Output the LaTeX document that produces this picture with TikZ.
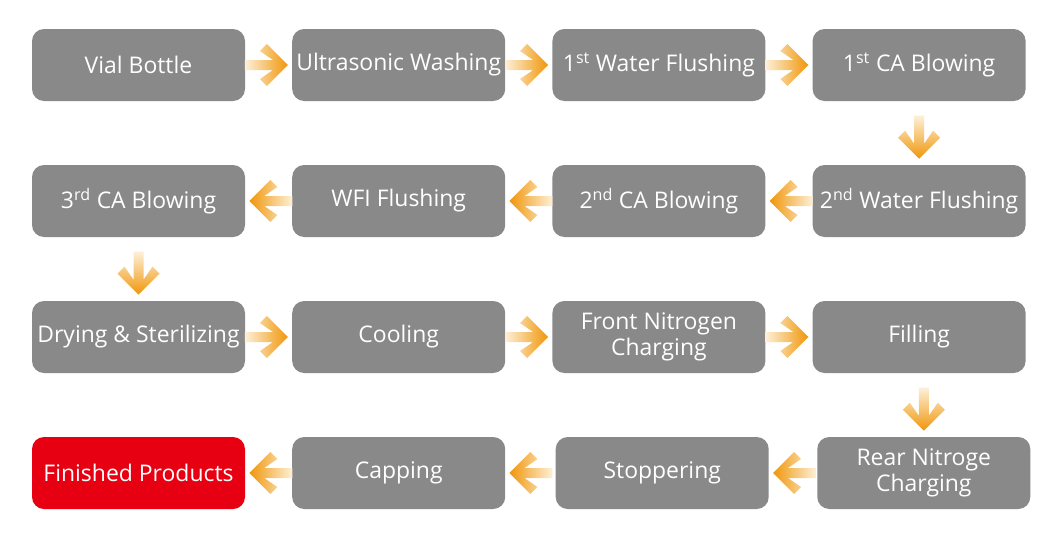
\documentclass[tikz,border=0pt]{standalone}
\usepackage{fontspec}
\setmainfont{Open Sans}
\usetikzlibrary{positioning,calc}

\definecolor{boxgray}{RGB}{137,137,137}
\definecolor{donered}{RGB}{230,0,18}
\definecolor{arrpale}{RGB}{253,240,215}
\definecolor{arrdeep}{RGB}{240,150,10}

\begin{document}
\begin{tikzpicture}[
    x=0.75pt, y=-0.75pt,
    node distance=47.6pt and 35pt,
    box/.style={fill=boxgray, rounded corners=9pt, minimum width=159.75pt, minimum height=54pt, inner xsep=1pt, align=center, text=white, font=\fontsize{17.2}{19.5}\selectfont},
    final/.style={box, fill=donered},
    arrR/.style={left color=arrpale, right color=arrdeep},
    arrL/.style={left color=arrdeep, right color=arrpale},
    arrD/.style={top color=arrpale, bottom color=arrdeep},
    pics/chev/.style={code={
        \shade[#1] (0,0) -- (-21,21) -- (-28,14) -- (-15,5) -- (-43,5) -- (-43,-5) -- (-15,-5) -- (-28,-14) -- (-21,-21) -- cycle;
    }}
]

\fill[white] (0,0) rectangle (1060,543);
\useasboundingbox (0,0) rectangle (1060,543);

% Row 1: left to right
\node[box] at (138.5,65) (vial) {Vial Bottle};
\node[box, right=of vial] (wash) {Ultrasonic Washing};
\node[box, right=of wash] (flush1) {1\textsuperscript{st} Water Flushing};
\node[box, right=of flush1] (blow1) {1\textsuperscript{st} CA Blowing};

% Row 2: right to left
\node[box, below=of blow1] (flush2) {2\textsuperscript{nd} Water Flushing};
\node[box, below=of flush1] (blow2) {2\textsuperscript{nd} CA Blowing};
\node[box, below=of wash] (wfi) {WFI Flushing};
\node[box, below=of vial] (blow3) {3\textsuperscript{rd} CA Blowing};

% Row 3: left to right
\node[box, below=of blow3] (dry) {Drying \& Sterilizing};
\node[box, below=of wfi] (cool) {Cooling};
\node[box, below=of blow2] (front) {Front Nitrogen\\Charging};
\node[box, below=of flush2] (fill) {Filling};

% Row 4: right to left
\node[box, below=of fill, xshift=3.5pt] (rear) {Rear Nitroge\\Charging};
\node[box, below=of front, xshift=2.5pt] (stopper) {Stoppering};
\node[box, below=of cool] (cap) {Capping};
\node[final, below=of dry] (done) {Finished Products};

% Arrows
\pic at ($(wash.west)+(-4,0)$) {chev=arrR};
\pic at ($(flush1.west)+(-4,0)$) {chev=arrR};
\pic at ($(blow1.west)+(-4,0)$) {chev=arrR};
\pic[rotate=-90] at ($(flush2.north)+(0,-6)$) {chev=arrD};
\pic[rotate=180] at ($(blow2.east)+(4,0)$) {chev=arrL};
\pic[rotate=180] at ($(wfi.east)+(4,0)$) {chev=arrL};
\pic[rotate=180] at ($(blow3.east)+(4,0)$) {chev=arrL};
\pic[rotate=-90] at ($(dry.north)+(0,-6)$) {chev=arrD};
\pic at ($(cool.west)+(-4,0)$) {chev=arrR};
\pic at ($(front.west)+(-4,0)$) {chev=arrR};
\pic at ($(fill.west)+(-4,0)$) {chev=arrR};
\pic[rotate=-90] at ($(rear.north)+(0,-6)$) {chev=arrD};
\pic[rotate=180] at ($(stopper.east)+(4,0)$) {chev=arrL};
\pic[rotate=180] at ($(cap.east)+(4,0)$) {chev=arrL};
\pic[rotate=180] at ($(done.east)+(4,0)$) {chev=arrL};

\end{tikzpicture}
\end{document}
